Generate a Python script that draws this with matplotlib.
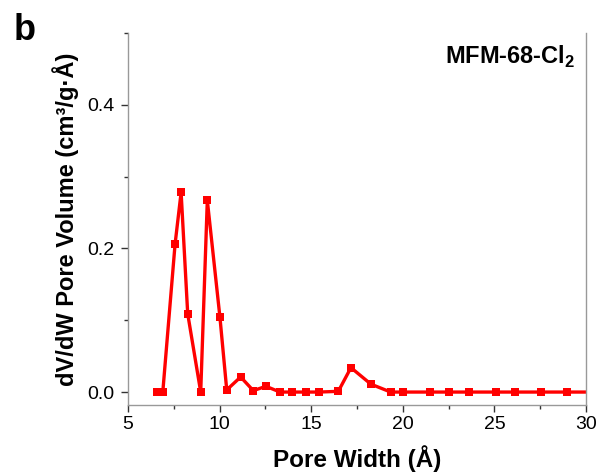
import matplotlib
matplotlib.use('Agg')
from matplotlib import pyplot as plt
from matplotlib.ticker import MultipleLocator

plt.rcParams['font.family'] = ['Liberation Sans', 'DejaVu Sans']
plt.rcParams['mathtext.fontset'] = 'custom'
plt.rcParams['mathtext.rm'] = 'Liberation Sans'
plt.rcParams['mathtext.bf'] = 'Liberation Sans:bold'

# pore size distribution
pore_width = [6.6, 6.9, 7.57, 7.9, 8.26, 8.97, 9.33, 10.02, 10.39, 11.15,
              11.84, 12.53, 13.3, 13.97, 14.7, 15.42, 16.48, 17.17, 18.26,
              19.34, 20.03, 21.48, 22.54, 23.63, 25.07, 26.12, 27.54, 28.98,
              30.4]
pore_volume = [0.0, 0.0, 0.206, 0.278, 0.109, 0.0, 0.267, 0.104, 0.003, 0.021,
               0.002, 0.008, 0.0, 0.0, 0.0, 0.0, 0.001, 0.034, 0.011,
               0.0, 0.0, 0.0, 0.0, 0.0, 0.0, 0.0, 0.0, 0.0,
               0.0]

fig = plt.figure(figsize=(6.02, 4.73), dpi=100)
ax = fig.add_axes([0.2126, 0.1438, 0.7608, 0.7864])

ax.plot(pore_width, pore_volume, color='#ff0000', lw=2.4, marker='s',
        markersize=6.2, markeredgewidth=0)

ax.set_xlim(5, 30)
ax.set_ylim(-0.018, 0.5)
ax.xaxis.set_major_locator(MultipleLocator(5))
ax.xaxis.set_minor_locator(MultipleLocator(2.5))
ax.yaxis.set_major_locator(MultipleLocator(0.2))
ax.yaxis.set_minor_locator(MultipleLocator(0.1))
ax.set_yticks([0.0, 0.2, 0.4])

for side in ['left', 'bottom', 'right']:
    ax.spines[side].set_color('#999999')
    ax.spines[side].set_linewidth(1.0)
ax.spines['top'].set_visible(False)

ax.tick_params(which='major', direction='out', length=5, width=1,
               labelsize=14, color='#333333', pad=3)
ax.tick_params(which='minor', direction='out', length=3, width=1,
               color='#333333')
ax.tick_params(axis='y', right=False, pad=5)

ax.set_xlabel('Pore Width (Å)', fontsize=17.5, fontweight='bold', labelpad=9)
ax.set_ylabel('dV/dW Pore Volume (cm³/g·Å)', fontsize=17,
              fontweight='bold', labelpad=6)

ax.text(0.976, 0.935, r'MFM-68-Cl$_\mathbf{2}$', transform=ax.transAxes,
        ha='right', va='center', fontsize=17, fontweight='bold')
fig.text(0.022, 0.972, 'b', fontsize=26, fontweight='bold', va='top')

fig.savefig('out.png', dpi=100)
